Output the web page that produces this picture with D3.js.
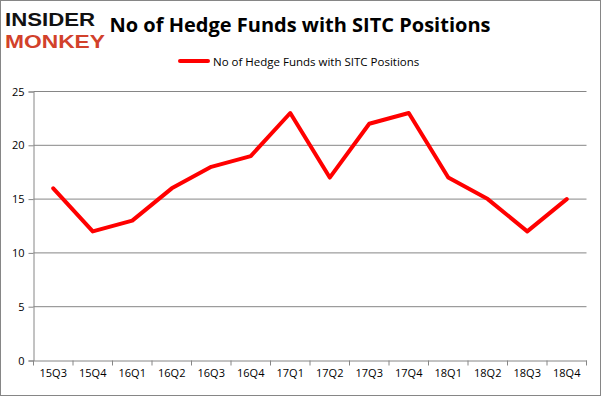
<!DOCTYPE html>
<html><head><meta charset="utf-8">
<script src="https://cdn.jsdelivr.net/npm/d3@7"></script>
<style>body{margin:0;background:#fff}svg{display:block}</style>
</head><body>
<script>
const categories = ["15Q3","15Q4","16Q1","16Q2","16Q3","16Q4","17Q1","17Q2","17Q3","17Q4","18Q1","18Q2","18Q3","18Q4"];
const values = [16,12,13,16,18,19,23,17,22,23,17,15,12,15];
const yTicks = [0,5,10,15,20,25];
const seriesName = "No of Hedge Funds with SITC Positions";
const titleText = "No of Hedge Funds with SITC Positions";

(function(){
const W = 601, H = 396;
const svg = d3.select("body").append("svg").attr("width", W).attr("height", H);
svg.append("rect").attr("x",0.5).attr("y",0.5).attr("width",W-1).attr("height",H-1)
  .attr("fill","#fff").attr("stroke","#868686");

const pl = 33.5, pr = 586.5, pt = 91.5, pb = 360.5;
const x = d3.scaleBand().domain(categories).range([pl, pr]);
const y = d3.scaleLinear().domain([0,25]).range([pb, pt]);
const font = "'Open Sans', sans-serif";

svg.append("g").selectAll("line").data(yTicks.filter(d=>d>0)).join("line")
  .attr("x1", pl).attr("x2", pr).attr("y1", d=>y(d)).attr("y2", d=>y(d))
  .attr("stroke","#868686").attr("stroke-width",1);

const ya = svg.append("g").attr("transform",`translate(${pl},0)`)
  .call(d3.axisLeft(y).tickValues(yTicks).tickSize(5).tickPadding(4));
ya.select(".domain").attr("stroke","#868686");
ya.selectAll(".tick line").attr("stroke","#868686");
ya.selectAll("text").attr("font-family",font).attr("font-size","11px").attr("fill","#000");

const xa = svg.append("g").attr("transform",`translate(0,${pb})`)
  .call(d3.axisBottom(x).tickSize(0).tickPadding(9));
xa.select(".domain").attr("stroke","#868686");
xa.selectAll("text").attr("font-family",font).attr("font-size","11px").attr("fill","#000");
xa.append("g").selectAll("line").data(d3.range(categories.length+1)).join("line")
  .attr("x1", i => pl + i*x.step()).attr("x2", i => pl + i*x.step())
  .attr("y1",0).attr("y2",5).attr("stroke","#868686");

const line = d3.line().x((d,i)=>x(categories[i]) + x.bandwidth()/2).y(d=>y(d));
svg.append("path").datum(values).attr("d", line)
  .attr("fill","none").attr("stroke","#ff0000").attr("stroke-width",4)
  .attr("stroke-linejoin","round").attr("stroke-linecap","round");

svg.append("text").attr("x", 300).attr("y", 32).attr("text-anchor","middle")
  .attr("font-family",font).attr("font-weight","bold").attr("font-size","20px")
  .text(titleText);

svg.append("line").attr("x1",180).attr("x2",208).attr("y1",61).attr("y2",61)
  .attr("stroke","#ff0000").attr("stroke-width",4).attr("stroke-linecap","round");
svg.append("text").attr("x",213).attr("y",65.5).attr("font-family",font).attr("font-size","11.5px")
  .text(seriesName);

svg.append("text").attr("x",5).attr("y",26).attr("font-family","'Liberation Sans', sans-serif")
  .attr("font-weight","900").attr("font-size","19px").attr("fill","#111")
  .attr("textLength",90).attr("lengthAdjust","spacingAndGlyphs").text("INSIDER");
svg.append("text").attr("x",5).attr("y",47.5).attr("font-family","'Liberation Sans', sans-serif")
  .attr("font-weight","900").attr("font-size","19px").attr("fill","#d2412b")
  .attr("textLength",100).attr("lengthAdjust","spacingAndGlyphs").text("MONKEY");
})();
</script>
</body></html>
